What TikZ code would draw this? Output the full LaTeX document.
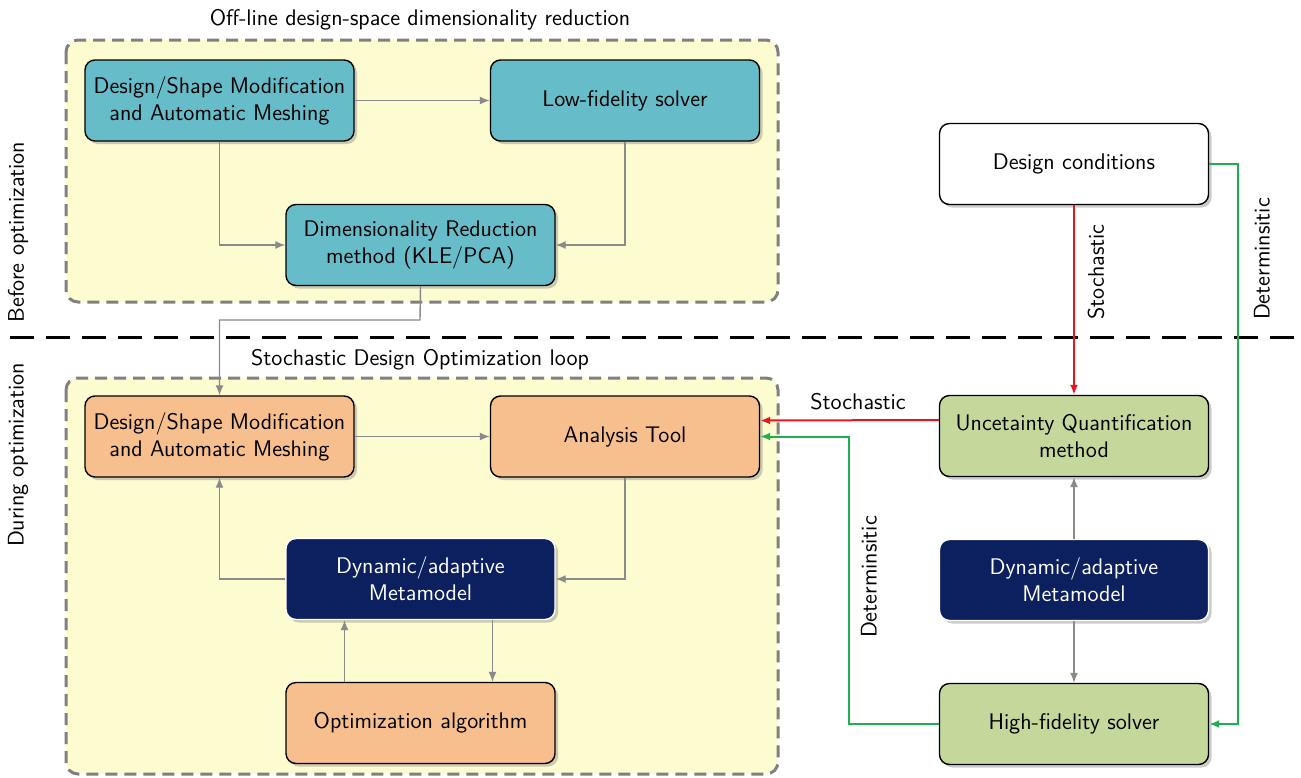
\documentclass[tikz,border=0pt]{standalone}
\usetikzlibrary{arrows.meta,shadows,positioning}
\definecolor{tealbox}{HTML}{66BDC9}
\definecolor{orangebox}{HTML}{F8BF8E}
\definecolor{navybox}{HTML}{0C2060}
\definecolor{greenbox}{HTML}{C5D89C}
\definecolor{yellowbg}{HTML}{FDFBD0}
\definecolor{arrgray}{HTML}{8A8A8A}
\definecolor{boxgray}{HTML}{808080}
\definecolor{redline}{HTML}{E8141E}
\definecolor{greenline}{HTML}{1DB050}
\begin{document}
\begin{tikzpicture}[x=0.5pt,y=-0.5pt,
  font=\sffamily\fontsize{11.3}{13.6}\selectfont,
  block/.style={draw=black, line width=0.7pt, rounded corners=5pt,
    minimum width=134.5pt, minimum height=40.5pt, align=center,
    drop shadow={opacity=0.4, shadow xshift=1.5pt, shadow yshift=-1.5pt}},
  tealblock/.style={block, fill=tealbox},
  orangeblock/.style={block, fill=orangebox},
  navyblock/.style={block, fill=navybox, draw=white, text=white},
  greenblock/.style={block, fill=greenbox},
  whiteblock/.style={block, fill=white},
  region/.style={draw=boxgray, dash pattern=on 6pt off 3.5pt, line width=1.5pt, fill=yellowbg, rounded corners=6pt},
  garrow/.style={draw=arrgray, line width=0.7pt, -{Latex[length=5pt,width=4pt]}},
  rarrow/.style={draw=redline, line width=1pt, -{Latex[length=5pt,width=4pt]}},
  grarrow/.style={draw=greenline, line width=1pt, -{Latex[length=5pt,width=4pt]}},
  lbl/.style={inner sep=0pt}
]
\useasboundingbox (0,0) rectangle (1301,777);

% regions
\draw[region] (66,40) rectangle (778,302);
\draw[region] (66,378) rectangle (778,774);
\node[lbl] (t1) at (420,20) {Off-line design-space dimensionality reduction};
\node[lbl] (t2) at (420,360) {Stochastic Design Optimization loop};

% separator
\draw[black, line width=1.5pt, dash pattern=on 12pt off 6pt] (10,337) -- (1301,337);
\node[lbl, rotate=90] (before) at (18,232) {Before optimization};
\node[lbl, rotate=90] (during) at (18,455) {During optimization};

% top nodes
\node[tealblock] (a1) at (219.5,100.5) {Design/Shape Modification\\and Automatic Meshing};
\node[tealblock] (a2) at (625,100.5) {Low-fidelity solver};
\node[tealblock] (a3) at (420.5,245) {Dimensionality Reduction\\method (KLE/PCA)};

% bottom nodes
\node[orangeblock] (b1) at (219.5,436.5) {Design/Shape Modification\\and Automatic Meshing};
\node[orangeblock] (b2) at (625,436.5) {Analysis Tool};
\node[navyblock] (b3) at (420.5,579) {Dynamic/adaptive\\Metamodel};
\node[orangeblock] (b4) at (420.5,723) {Optimization algorithm};

% right nodes
\node[whiteblock] (c1) at (1074,164) {Design conditions};
\node[greenblock] (c2) at (1074,436) {Uncetainty Quantification\\method};
\node[navyblock] (c3) at (1074,580) {Dynamic/adaptive\\Metamodel};
\node[greenblock] (c4) at (1074,724) {High-fidelity solver};

% top arrows
\draw[garrow] (a1.east) -- (a2.west);
\draw[garrow] (a1.south) |- (a3.west);
\draw[garrow] (a2.south) |- (a3.east);
\coordinate (k1) at (420,320);
\draw[garrow] (a3.south) -- (k1) -| (b1.north);

% bottom arrows
\draw[garrow] (b1.east) -- (b2.west);
\draw[garrow] (b2.south) |- (b3.east);
\draw[garrow] (b3.west) -| (b1.south);
\draw[garrow] ([xshift=-38pt]b4.north) -- ([xshift=-38pt]b3.south);
\draw[garrow] ([xshift=36pt]b3.south) -- ([xshift=36pt]b4.north);

% right arrows
\draw[rarrow] (c1.south) -- (c2.north);
\node[lbl, rotate=90] (sto1) at (1096,272) {Stochastic};
\coordinate (g1) at (1238,164);
\draw[grarrow] (c1.east) -- (g1) |- (c4.east);
\node[lbl, rotate=90] (det1) at (1262,259) {Determinsitic};
\draw[garrow] (c3.north) -- (c2.south);
\draw[garrow] (c3.south) -- (c4.north);
\draw[rarrow] ([yshift=8pt]c2.west) -- ([yshift=8pt]b2.east);
\node[lbl] (sto2) at (858,402) {Stochastic};
\coordinate (g2) at (849,724);
\draw[grarrow] (c4.west) -- (g2) |- (b2.east);
\node[lbl, rotate=90] (det2) at (869,577) {Determinsitic};
\end{tikzpicture}
\end{document}
